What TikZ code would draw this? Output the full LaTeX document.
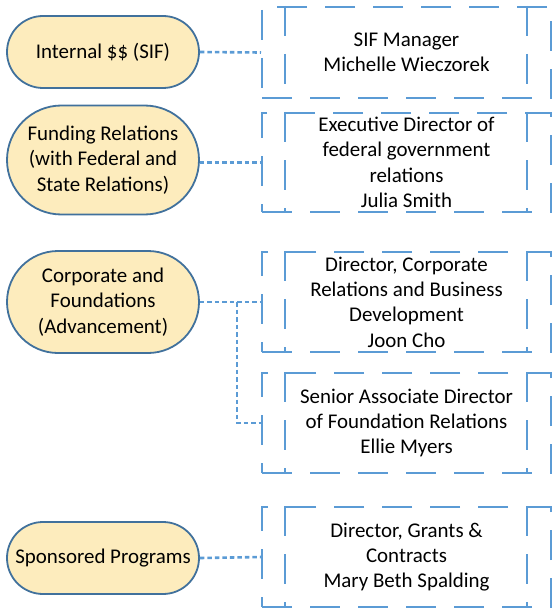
\documentclass[tikz,border=0pt]{standalone}
\usepackage{fontspec}
\setmainfont{Carlito}
\usetikzlibrary{positioning, calc}

\newcommand{\orgfont}{\fontsize{21}{25.5}\selectfont}

\begin{document}
\begin{tikzpicture}[x=1bp, y=-1bp,
    unit/.style={draw=unitborder, fill=unitfill, line width=1.8bp, inner sep=0pt,
        minimum width=192bp, minimum height=#1*1bp, rounded corners=#1*0.5bp,
        align=center, font=\orgfont},
    contact/.style={draw=boxblue, line width=2bp, dash pattern=on 30bp off 18bp,
        inner sep=0pt, minimum width=289bp, minimum height=#1*1bp,
        align=center, font=\orgfont},
    sideline/.style={draw=boxblue, line width=2bp, dash pattern=on 30bp off 18bp},
    link/.style={draw=linkblue, line width=2.6bp, dash pattern=on 4.5bp off 3bp}]
        % Colours
        \definecolor{unitfill}{RGB}{253, 236, 189}
        \definecolor{unitborder}{RGB}{65, 113, 156}
        \definecolor{boxblue}{RGB}{91, 155, 213}
        \definecolor{linkblue}{RGB}{91, 155, 213}

        \useasboundingbox (0,0) rectangle (560,613);

        % 1. Funding sources (left column)
        \node[unit=72]  (internal)  at (103,52)  {Internal \$\$ (SIF)};
        \node[unit=109] (funding)   at (103,160) {Funding Relations\\(with Federal and\\State Relations)};
        \node[unit=102] (corporate) at (103,302) {Corporate and\\Foundations\\(Advancement)};
        \node[unit=72]  (sponsored) at (103,558) {Sponsored Programs};

        % 2. Contacts (right column)
        \node[contact=91]  (sif)     at (406.5,52.5)  {SIF Manager\\Michelle Wieczorek};
        \node[contact=99]  (federal) at (406.5,162.5) {Executive Director of\\federal government\\relations\\Julia Smith};
        \node[contact=100] (corp)    at (406.5,302)   {Director, Corporate\\Relations and Business\\Development\\Joon Cho};
        \node[contact=100] (found)   at (406.5,423)   {Senior Associate Director\\of Foundation Relations\\Ellie Myers};
        \node[contact=100] (grants)  at (406.5,557)   {Director, Grants \&\\Contracts\\Mary Beth Spalding};

        % inner side lines of the contact boxes
        \foreach \b in {sif, federal, corp, found, grants} {
            \draw[sideline] ([xshift=24bp]\b.north west) -- ([xshift=24bp]\b.south west);
            \draw[sideline] ([xshift=-25bp]\b.north east) -- ([xshift=-25bp]\b.south east);
        }

        % 3. Dotted links
        \draw[link] (internal.east) -- (sif.west);
        \draw[link] (federal.west -| funding.east) -- (federal.west);
        \draw[link] (corporate.east) -- (corp.west);
        \draw[link] ([xshift=-24bp]corp.west) |- (found.west);
        \draw[link] (sponsored.east) -- (grants.west);

    \end{tikzpicture}
\end{document}
